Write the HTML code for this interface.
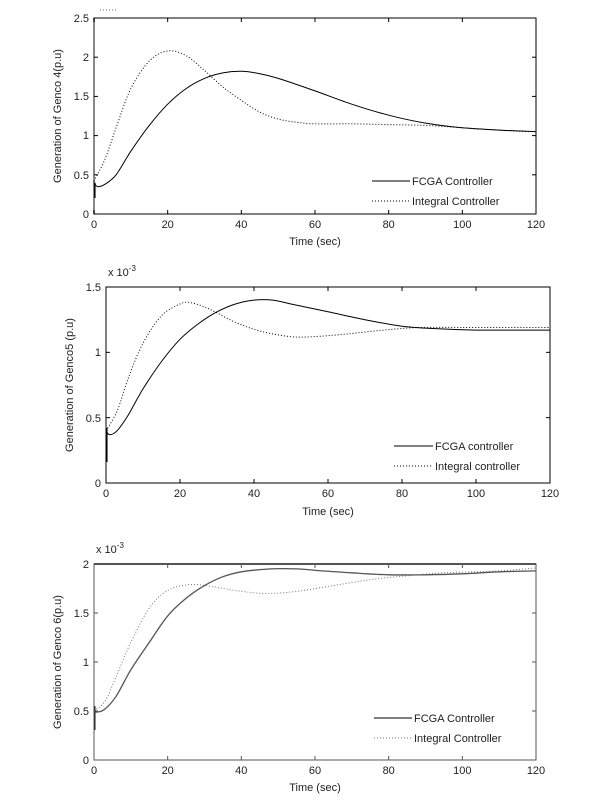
<!DOCTYPE html>
<html><head><meta charset="utf-8"><style>
html,body{margin:0;padding:0;background:#fff;}
svg{display:block;}
text{font-family:"Liberation Sans",sans-serif;font-size:11px;fill:#222;}
</style></head><body>
<svg id="s" width="612" height="801" xmlns="http://www.w3.org/2000/svg">
<g id="p1">
<rect x="94" y="18" width="442" height="196" fill="none" stroke="#000" stroke-width="1"/>
<line x1="94" y1="18" x2="94" y2="214" stroke="#888" stroke-width="2"/>
<line x1="100" y1="10" x2="118" y2="10" stroke="#666" stroke-dasharray="1,2"/>
<text x="89" y="218" text-anchor="end">0</text>
<text x="89" y="179" text-anchor="end">0.5</text>
<text x="89" y="139" text-anchor="end">1</text>
<text x="89" y="100" text-anchor="end">1.5</text>
<text x="89" y="61" text-anchor="end">2</text>
<text x="89" y="22" text-anchor="end">2.5</text>
<text x="94" y="228" text-anchor="middle">0</text>
<text x="167.7" y="228" text-anchor="middle">20</text>
<text x="241.3" y="228" text-anchor="middle">40</text>
<text x="315" y="228" text-anchor="middle">60</text>
<text x="388.7" y="228" text-anchor="middle">80</text>
<text x="462.3" y="228" text-anchor="middle">100</text>
<text x="536" y="228" text-anchor="middle">120</text>
<text x="315" y="245" text-anchor="middle">Time (sec)</text>
<text transform="translate(61,116) rotate(-90)" text-anchor="middle">Generation of Genco 4(p.u)</text>
<line x1="372" y1="181" x2="410" y2="181" stroke="#000"/>
<text x="412" y="185">FCGA Controller</text>
<line x1="372" y1="201" x2="410" y2="201" stroke="#000" stroke-dasharray="1,2"/>
<text x="412" y="205">Integral Controller</text>
</g>
<g id="p2">
<rect x="106" y="287" width="444" height="196" fill="none" stroke="#000" stroke-width="1"/>
<text x="101" y="487" text-anchor="end">0</text>
<text x="101" y="422" text-anchor="end">0.5</text>
<text x="101" y="356" text-anchor="end">1</text>
<text x="101" y="291" text-anchor="end">1.5</text>
<text x="108" y="276">x 10<tspan dy="-5" font-size="8">-3</tspan></text>
<text x="106" y="497" text-anchor="middle">0</text>
<text x="180" y="497" text-anchor="middle">20</text>
<text x="254" y="497" text-anchor="middle">40</text>
<text x="328" y="497" text-anchor="middle">60</text>
<text x="402" y="497" text-anchor="middle">80</text>
<text x="476" y="497" text-anchor="middle">100</text>
<text x="550" y="497" text-anchor="middle">120</text>
<text x="328" y="515" text-anchor="middle">Time (sec)</text>
<text transform="translate(73,385) rotate(-90)" text-anchor="middle">Generation of Genco5 (p.u)</text>
<line x1="394" y1="446" x2="433" y2="446" stroke="#000"/>
<text x="435" y="450">FCGA controller</text>
<line x1="394" y1="466" x2="433" y2="466" stroke="#000" stroke-dasharray="1,2"/>
<text x="435" y="470">Integral controller</text>
</g>
<g id="p3">
<rect x="94" y="564" width="442" height="196" fill="none" stroke="#555" stroke-width="1"/>
<line x1="94" y1="564" x2="536" y2="564" stroke="#555" stroke-width="2"/>
<text x="89" y="764" text-anchor="end">0</text>
<text x="89" y="715" text-anchor="end">0.5</text>
<text x="89" y="666" text-anchor="end">1</text>
<text x="89" y="617" text-anchor="end">1.5</text>
<text x="89" y="568" text-anchor="end">2</text>
<text x="96" y="553">x 10<tspan dy="-5" font-size="8">-3</tspan></text>
<text x="94" y="774" text-anchor="middle">0</text>
<text x="167.7" y="774" text-anchor="middle">20</text>
<text x="241.3" y="774" text-anchor="middle">40</text>
<text x="315" y="774" text-anchor="middle">60</text>
<text x="388.7" y="774" text-anchor="middle">80</text>
<text x="462.3" y="774" text-anchor="middle">100</text>
<text x="536" y="774" text-anchor="middle">120</text>
<text x="315" y="791" text-anchor="middle">Time (sec)</text>
<text transform="translate(61,662) rotate(-90)" text-anchor="middle">Generation of Genco 6(p.u)</text>
<line x1="374" y1="718" x2="412" y2="718" stroke="#555" stroke-width="1.5"/>
<text x="414" y="722">FCGA Controller</text>
<line x1="374" y1="738" x2="412" y2="738" stroke="#777" stroke-dasharray="1,2"/>
<text x="414" y="742">Integral Controller</text>
</g>
</svg>
<script>
const NS="http://www.w3.org/2000/svg",S=document.getElementById("s");
function ln(x1,y1,x2,y2,c){const e=document.createElementNS(NS,"line");e.setAttribute("x1",x1);e.setAttribute("y1",y1);e.setAttribute("x2",x2);e.setAttribute("y2",y2);e.setAttribute("stroke",c||"#000");S.appendChild(e);}
function ticks(x0,x1,y0,y1,ny,c){
  for(let i=0;i<=6;i++){const x=x0+(x1-x0)*i/6;ln(x,y0,x,y0-4,c);ln(x,y1,x,y1+4,c);}
  for(let j=0;j<=ny;j++){const y=y0-(y0-y1)*j/ny;ln(x0,y,x0+4,y,c);ln(x1,y,x1-4,y,c);}
}
ticks(94,536,214,18,5);ticks(106,550,483,287,3);ticks(94,536,760,564,4,"#555");
function cr(pts){
  let d="M"+pts[0][0].toFixed(1)+","+pts[0][1].toFixed(1);
  for(let i=0;i<pts.length-1;i++){
    const p0=pts[i-1]||pts[i],p1=pts[i],p2=pts[i+1],p3=pts[i+2]||p2;
    const c1=[p1[0]+(p2[0]-p0[0])/6,p1[1]+(p2[1]-p0[1])/6];
    const c2=[p2[0]-(p3[0]-p1[0])/6,p2[1]-(p3[1]-p1[1])/6];
    d+="C"+c1.map(v=>v.toFixed(1))+" "+c2.map(v=>v.toFixed(1))+" "+p2.map(v=>v.toFixed(1));
  }
  return d;
}
function add(x0,x1,y0,ymax,vmax,data,stroke,dash,w){
  const pts=data.map(p=>[x0+(x1-x0)*p[0]/120,y0-(y0-ymax)*p[1]/vmax]);
  const e=document.createElementNS(NS,"path");
  e.setAttribute("d",cr(pts));e.setAttribute("fill","none");
  e.setAttribute("stroke",stroke);e.setAttribute("stroke-width",w||1);
  if(dash)e.setAttribute("stroke-dasharray",dash);
  S.appendChild(e);
}
add(94,536,214,18,2.5,[[0,0.4],[1,0.35],[3,0.38],[6,0.5],[10,0.8],[15,1.13],[20,1.4],[25,1.6],[30,1.73],[35,1.8],[40,1.82],[45,1.79],[50,1.73],[60,1.57],[70,1.4],[80,1.26],[90,1.16],[100,1.1],[110,1.07],[120,1.05]],"#000");
add(94,536,214,18,2.5,[[0,0.42],[3,0.7],[6,1.1],[10,1.6],[15,1.95],[20,2.08],[25,2.02],[30,1.83],[35,1.62],[40,1.45],[45,1.3],[50,1.21],[55,1.17],[60,1.15],[70,1.15],[80,1.14],[90,1.13],[100,1.1],[110,1.07],[118,1.05]],"#000","1,2");
add(106,550,483,287,1.5,[[0,0.4],[1,0.37],[3,0.4],[6,0.52],[10,0.72],[15,0.93],[20,1.1],[25,1.22],[30,1.31],[35,1.37],[40,1.4],[45,1.4],[50,1.37],[60,1.31],[70,1.25],[80,1.2],[90,1.18],[100,1.17],[120,1.17]],"#000");
add(106,550,483,287,1.5,[[0,0.4],[3,0.55],[6,0.8],[10,1.07],[15,1.28],[20,1.37],[23,1.38],[28,1.33],[35,1.23],[42,1.16],[50,1.12],[56,1.12],[65,1.14],[75,1.17],[85,1.19],[100,1.19],[120,1.19]],"#000","1,2");
add(94,536,760,564,2,[[0,0.5],[1,0.49],[3,0.52],[6,0.65],[10,0.92],[15,1.2],[20,1.47],[25,1.65],[30,1.78],[35,1.87],[40,1.92],[48,1.95],[55,1.95],[62,1.93],[70,1.91],[80,1.89],[90,1.89],[100,1.9],[110,1.92],[120,1.93]],"#555",null,1.3);
add(94,536,760,564,2,[[0,0.5],[3,0.6],[6,0.85],[10,1.2],[15,1.55],[20,1.73],[26,1.79],[32,1.77],[40,1.72],[47,1.7],[55,1.72],[65,1.78],[75,1.84],[85,1.88],[95,1.91],[110,1.93],[120,1.96]],"#777","1,2");
[[94,198,214-0.4*78.4,"#000"],[106,462,483-0.42*130.7,"#000"],[94,730,760-0.55*98,"#333"]].forEach(a=>{
  const e=document.createElementNS(NS,"line");
  e.setAttribute("x1",a[0]+0.8);e.setAttribute("x2",a[0]+0.8);e.setAttribute("y1",a[1]);e.setAttribute("y2",a[2]);
  e.setAttribute("stroke",a[3]);e.setAttribute("stroke-width",1.5);S.appendChild(e);
});
</script>
</body></html>
